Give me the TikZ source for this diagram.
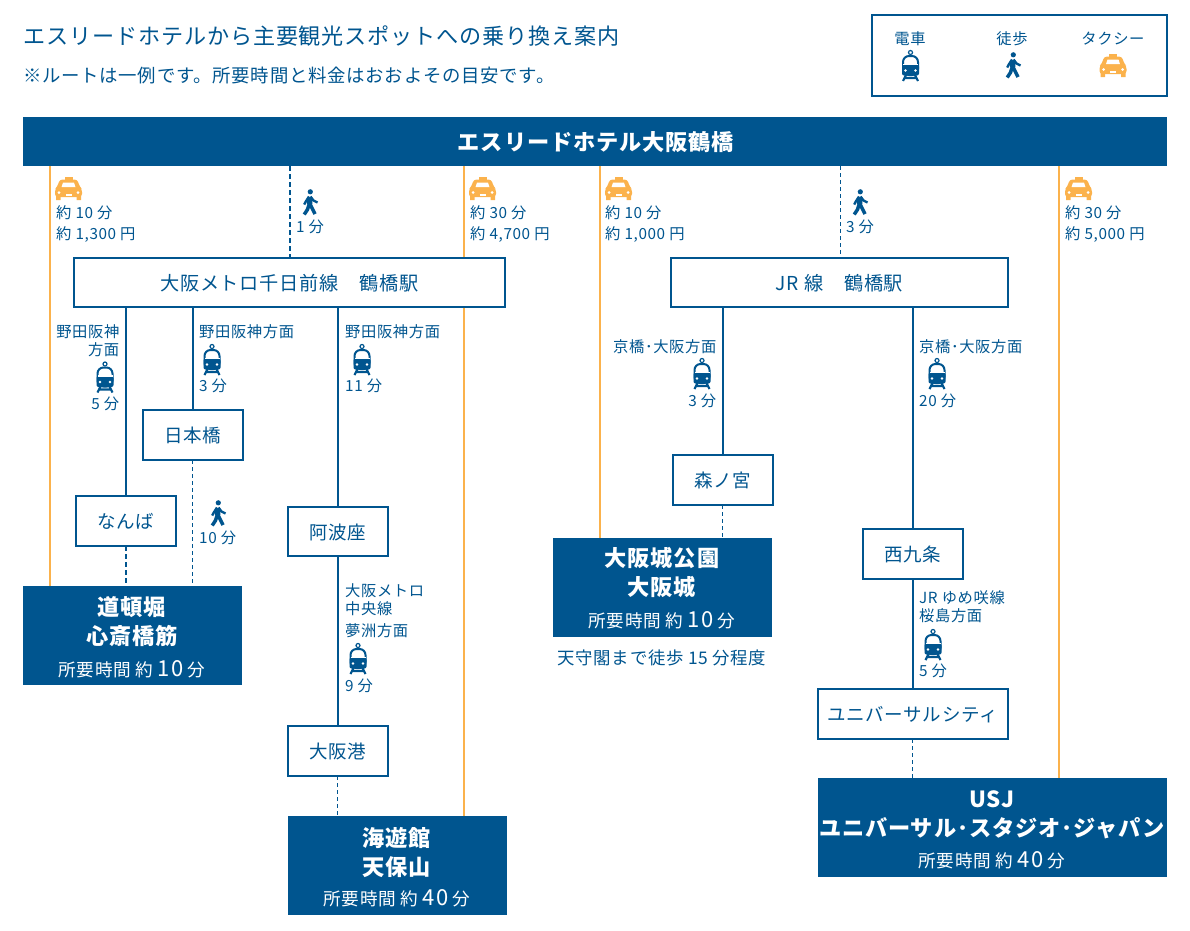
\documentclass[tikz,border=0pt]{standalone}
\usepackage{fontspec}
\setmainfont[LetterSpace=4]{Noto Sans CJK JP}
\usetikzlibrary{positioning}
\definecolor{hotelblue}{HTML}{00558F}
\definecolor{taxiorange}{HTML}{FBB24C}
\newcommand{\fsize}[1]{\fontsize{#1}{#1}\selectfont}
\newcommand{\footertext}[1]{所要時間 約 {\fsize{22}#1} 分}
\tikzset{
    railline/.style={draw=hotelblue, line width=2pt},
    taxiline/.style={draw=taxiorange, line width=2pt},
    walkthick/.style={draw=hotelblue, line width=2pt, dash pattern=on 5pt off 3pt},
    walkthin/.style={draw=hotelblue, line width=1pt, dash pattern=on 4pt off 3pt},
    stationbox/.style={draw=hotelblue, line width=2pt, fill=white, inner sep=0pt, outer sep=0pt, text=hotelblue,
        font=\fsize{18.5}, text height=17.8pt, text depth=2.3pt},
    destbox/.style={fill=hotelblue, inner sep=0pt, outer sep=0pt},
    destname/.style={text=white, inner sep=0pt, font=\fsize{22.2}\bfseries, text height=19.5pt, text depth=2.7pt},
    destfoot/.style={text=white, inner sep=0pt, font=\fsize{17.6}, text height=17pt, text depth=3pt},
    infotext/.style={text=hotelblue, inner sep=0pt, font=\fsize{15.3}, text height=15pt, text depth=1.8pt},
    pics/trainicon/.style={code={
        \draw[hotelblue, line width=1.2pt, fill=white] (0,-15.5) circle (2);
        \draw[hotelblue, line width=2pt, fill=white, rounded corners=6pt] (-7.5,-12) rectangle (7.5,7);
        \fill[hotelblue, rounded corners=2pt] (-8.5,-3.5) rectangle (8.5,7.5);
        \fill[white] (-7.5,-4.4) rectangle (7.5,-2.8);
        \fill[white] (-5,2.5) circle (1.3) (5,2.5) circle (1.3);
        \draw[hotelblue, line width=2.2pt] (-4,6) -- (-7.5,13) (4,6) -- (7.5,13) (-5.5,10) -- (5.5,10);
    }},
    pics/walkicon/.style={code={
        \fill[hotelblue] (0.3,-11.2) circle (2.6);
        \draw[hotelblue, line width=5.5pt] (0,-5.5) -- (-0.5,1);
        \draw[hotelblue, line width=3.5pt, line join=round] (-0.5,0) -- (-2.5,6.5) -- (-5.8,11.5);
        \draw[hotelblue, line width=3.5pt, line join=round] (-0.5,0) -- (2.5,6) -- (5,11);
        \draw[hotelblue, line width=2.4pt, line join=round] (0.5,-6.5) -- (3.5,-2.5) -- (7.5,-0.5);
        \draw[hotelblue, line width=2.4pt, line join=round] (-1,-6.5) -- (-4.5,-1) -- (-5.8,1.5);
    }},
    pics/taxiicon/.style={code={
        \fill[taxiorange] (-4,-12) rectangle (4,-9.5);
        \fill[taxiorange, rounded corners=3pt] (-9,-9.5) -- (9,-9.5) -- (11,-2.5) -- (13.5,0) -- (13.5,8) -- (-13.5,8) -- (-13.5,0) -- (-11,-2.5) -- cycle;
        \fill[white] (-5.5,-6.5) -- (5.5,-6.5) -- (7,-1.8) -- (-7,-1.8) -- cycle;
        \fill[taxiorange] (-12.5,7) rectangle (-8,11) (8,7) rectangle (12.5,11);
        \fill[white] (-9.5,3.5) circle (1.5) (9.5,3.5) circle (1.5);
        \fill[white] (-3,5) rectangle (3,6.5);
    }},
}
\begin{document}
\begin{tikzpicture}[x=1pt, y=-1pt]
    \useasboundingbox (0,0) rectangle (1190,930);

    % headings
    \node[text=hotelblue, inner sep=0pt, anchor=west, font=\fsize{22.1}] (title) at (23,36.5) {エスリードホテルから主要観光スポットへの乗り換え案内};
    \node[text=hotelblue, inner sep=0pt, anchor=west, font=\fsize{18.4}] (subtitle) at (23,75.5) {※ルートは一例です。所要時間と料金はおおよその目安です。};

    % legend
    \node[draw=hotelblue, line width=2pt, outer sep=0pt, minimum width=295pt, minimum height=81pt, anchor=north west, inner sep=0pt] (legend) at (872,15) {};
    \node[infotext] (legendtrain) at (910,38) {電車};
    \node[infotext] (legendwalk) at (1012,38) {徒歩};
    \node[infotext] (legendtaxi) at (1113,38) {タクシー};
    \pic at (910.5,68) {trainicon};
    \pic at (1013,66) {walkicon};
    \pic at (1113,66) {taxiicon};

    % hotel and destinations
    \node[destbox, minimum width=1144pt, minimum height=49pt, anchor=north west] (hotel) at (23,117) {};
    \node[destname] (hotelname) at (596,142) {エスリードホテル大阪鶴橋};
    \node[destbox, minimum width=219pt, minimum height=99pt, anchor=north west] (dotonbori) at (23,586) {};
    \node[destbox, minimum width=219pt, minimum height=99pt, anchor=north west] (osakajo) at (553,538) {};
    \node[destbox, minimum width=219pt, minimum height=99pt, anchor=north west] (kaiyukan) at (288,816) {};
    \node[destbox, minimum width=349pt, minimum height=99pt, anchor=north west] (usj) at (818,778) {};

    % taxi lines
    \coordinate (taxia) at (50,166);
    \coordinate (taxib) at (464,166);
    \coordinate (taxic) at (600,166);
    \coordinate (taxid) at (1059,166);
    \draw[taxiline] (taxia) -- (taxia |- dotonbori.north);
    \draw[taxiline] (taxib) -- (taxib |- kaiyukan.north);
    \draw[taxiline] (taxic) -- (taxic |- osakajo.north);
    \draw[taxiline] (taxid) -- (taxid |- usj.north);

    % stations
    \node[stationbox, font=\fsize{19.2}, minimum width=431pt, minimum height=49pt, anchor=north west] (metro) at (74,258) {大阪メトロ千日前線　鶴橋駅};
    \node[stationbox, font=\fsize{19.2}, minimum width=337pt, minimum height=49pt, anchor=north west] (jr) at (671,258) {JR 線　鶴橋駅};
    \node[stationbox, minimum width=100pt, minimum height=50pt, anchor=north west] (nihonbashi) at (142.5,410) {日本橋};
    \node[stationbox, minimum width=100pt, minimum height=50pt, anchor=north west] (namba) at (76,496) {なんば};
    \node[stationbox, minimum width=100pt, minimum height=49pt, anchor=north west] (awaza) at (287.5,507) {阿波座};
    \node[stationbox, minimum width=100pt, minimum height=50pt, anchor=north west] (osakako) at (287.5,726) {大阪港};
    \node[stationbox, minimum width=100pt, minimum height=50pt, anchor=north west] (morinomiya) at (672.5,455) {森ノ宮};
    \node[stationbox, minimum width=100pt, minimum height=50pt, anchor=north west] (nishikujo) at (862.5,529) {西九条};
    \node[stationbox, minimum width=190pt, minimum height=50pt, anchor=north west] (univcity) at (817.5,689) {ユニバーサルシティ};

    % walking from hotel
    \coordinate (walka) at (290,166);
    \coordinate (walkb) at (840,166);
    \draw[walkthick] (walka) -- (walka |- metro.north);
    \draw[walkthin] (walkb) -- (walkb |- jr.north);

    % rail lines
    \draw[railline] (namba.north |- metro.south) -- (namba.north);
    \draw[walkthick] (namba.south) -- (namba.south |- dotonbori.north);
    \draw[railline] (nihonbashi.north |- metro.south) -- (nihonbashi.north);
    \draw[walkthin] (nihonbashi.south) -- (nihonbashi.south |- dotonbori.north);
    \draw[railline] (awaza.north |- metro.south) -- (awaza.north);
    \draw[railline] (awaza.south) -- (osakako.north);
    \draw[walkthin] (osakako.south) -- (osakako.south |- kaiyukan.north);
    \draw[railline] (morinomiya.north |- jr.south) -- (morinomiya.north);
    \draw[walkthin] (morinomiya.south) -- (morinomiya.south |- osakajo.north);
    \draw[railline] (nishikujo.north |- jr.south) -- (nishikujo.north);
    \draw[railline] (nishikujo.south) -- (nishikujo.south |- univcity.north);
    \draw[walkthin] (nishikujo.south |- univcity.south) -- (nishikujo.south |- usj.north);

    % taxi labels
    \pic at (68.5,189) {taxiicon};
    \node[infotext, anchor=west] (faretimea) at (56,212) {約 10 分};
    \node[infotext, anchor=west] (farecosta) at (56,233) {約 1,300 円};
    \pic at (482.5,189) {taxiicon};
    \node[infotext, anchor=west] (faretimeb) at (470,212) {約 30 分};
    \node[infotext, anchor=west] (farecostb) at (470,233) {約 4,700 円};
    \pic at (618.5,189) {taxiicon};
    \node[infotext, anchor=west] (faretimec) at (605,212) {約 10 分};
    \node[infotext, anchor=west] (farecostc) at (605,233) {約 1,000 円};
    \pic at (1078.5,189) {taxiicon};
    \node[infotext, anchor=west] (faretimed) at (1065,212) {約 30 分};
    \node[infotext, anchor=west] (farecostd) at (1065,233) {約 5,000 円};

    % walk labels
    \pic at (310,203) {walkicon};
    \node[infotext, anchor=west] (walktimea) at (296,226) {1 分};
    \pic at (860,203) {walkicon};
    \node[infotext, anchor=west] (walktimeb) at (846,226) {3 分};
    \pic at (218,514) {walkicon};
    \node[infotext, anchor=west] (walktimec) at (199,537) {10 分};

    % metro labels
    \node[infotext, anchor=east] (dirnamba) at (119.5,331) {野田阪神};
    \node[infotext, anchor=east] (dirnambab) at (119.5,349) {方面};
    \pic at (105,379.5) {trainicon};
    \node[infotext, anchor=east] (timenamba) at (119.5,403) {5 分};
    \node[infotext, anchor=west] (dirnihonbashi) at (199,331) {野田阪神方面};
    \pic at (212,362) {trainicon};
    \node[infotext, anchor=west] (timenihonbashi) at (199,385) {3 分};
    \node[infotext, anchor=west] (dirawaza) at (345,331) {野田阪神方面};
    \pic at (362,362) {trainicon};
    \node[infotext, anchor=west] (timeawaza) at (345,385) {11 分};
    \node[infotext, anchor=west] (lineosakako) at (345,590) {大阪メトロ};
    \node[infotext, anchor=west] (lineosakakob) at (345,608) {中央線};
    \node[infotext, anchor=west] (dirosakako) at (345,630) {夢洲方面};
    \pic at (358,661) {trainicon};
    \node[infotext, anchor=west] (timeosakako) at (345,685) {9 分};

    % jr labels
    \node[infotext, anchor=east] (dirmori) at (716.5,346) {京橋･大阪方面};
    \pic at (702,376) {trainicon};
    \node[infotext, anchor=east] (timemori) at (716.5,400) {3 分};
    \node[infotext, anchor=west] (dirnishi) at (919,346) {京橋･大阪方面};
    \pic at (937,376) {trainicon};
    \node[infotext, anchor=west] (timenishi) at (919,400) {20 分};
    \node[infotext, anchor=west] (lineuniv) at (919,597) {JR ゆめ咲線};
    \node[infotext, anchor=west] (diruniv) at (919,615) {桜島方面};
    \pic at (933,647) {trainicon};
    \node[infotext, anchor=west] (timeuniv) at (919,670) {5 分};

    % destination labels
    \node[destname] (dotonboria) at (132,607) {道頓堀};
    \node[destname] (dotonborib) at (132,636) {心斎橋筋};
    \node[destfoot] (dotonborifoot) at (132,669) {\footertext{10}};
    \node[destname] (osakajoa) at (662,558) {大阪城公園};
    \node[destname] (osakajob) at (662,587) {大阪城};
    \node[destfoot] (osakajofoot) at (662,620) {\footertext{10}};
    \node[infotext, font=\fsize{17.4}, text height=16.5pt] (osakajonote) at (662,657) {天守閣まで徒歩 15 分程度};
    \node[destname] (kaiyukana) at (397,838) {海遊館};
    \node[destname] (kaiyukanb) at (397,867) {天保山};
    \node[destfoot] (kaiyukanfoot) at (397,898) {\footertext{40}};
    \node[destname] (usja) at (992,799) {USJ};
    \node[destname] (usjb) at (992,828) {ユニバーサル･スタジオ･ジャパン};
    \node[destfoot] (usjfoot) at (992,860) {\footertext{40}};
\end{tikzpicture}
\end{document}
